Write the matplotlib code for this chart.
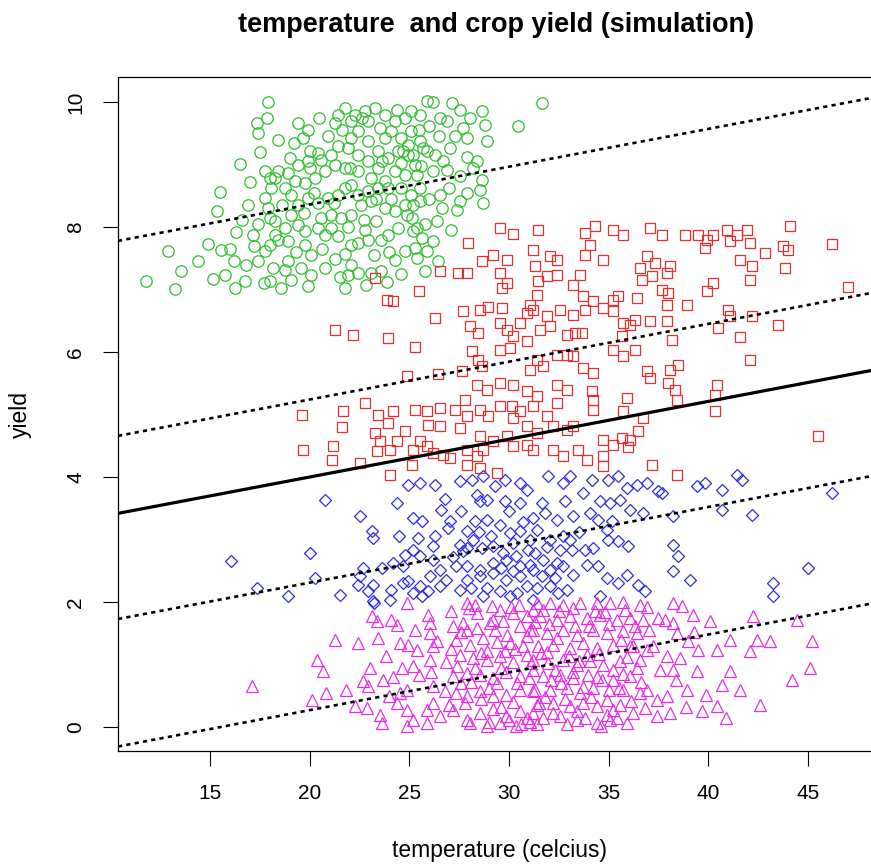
import matplotlib
matplotlib.use("Agg")
import matplotlib.pyplot as plt
import numpy as np

plt.rcParams["font.family"] = ["Liberation Sans", "DejaVu Sans"]

# ── Data ─────────────────────────────────────────────────────────────────────

# group 1 (green circles): temperature, yield
green_pts = [
    (17.91, 10.00), (17.88, 9.75), (17.33, 9.66), (17.40, 9.50), (19.41, 9.67), (20.45, 9.74),
    (19.66, 9.43), (20.00, 9.21), (16.48, 9.01), (16.98, 8.72), (15.48, 8.56), (15.36, 8.25),
    (16.90, 8.36), (16.32, 7.92), (17.15, 7.88), (12.89, 7.61), (11.80, 7.14), (13.22, 7.01),
    (13.56, 7.29), (14.39, 7.46), (14.90, 7.73), (15.56, 7.64), (15.15, 7.17), (15.73, 7.24),
    (16.23, 7.03), (16.73, 7.14), (16.20, 7.45), (16.82, 7.40), (17.40, 7.45), (17.74, 7.61),
    (17.99, 7.72), (18.41, 7.80), (18.16, 7.34), (17.99, 7.14), (18.57, 7.03), (17.70, 7.10),
    (18.74, 7.32), (19.08, 7.16), (19.58, 7.34), (20.08, 7.24), (20.75, 7.34), (21.25, 7.49),
    (21.75, 7.57), (22.09, 7.40), (22.42, 7.26), (21.92, 7.24), (21.75, 7.02), (23.09, 7.26),
    (23.59, 7.30), (24.26, 7.48), (24.76, 7.61), (25.26, 7.66), (25.18, 7.93), (24.43, 7.98),
    (23.92, 7.88), (23.59, 7.80), (22.75, 7.96), (22.42, 7.74), (22.09, 7.72), (21.42, 7.85),
    (21.08, 7.98), (20.75, 7.88), (20.41, 7.98), (20.58, 8.14), (21.08, 8.20), (21.58, 8.14),
    (22.09, 8.20), (22.59, 8.36), (23.09, 8.41), (23.76, 8.30), (24.26, 8.25), (24.76, 8.36),
    (25.09, 8.52), (24.59, 8.62), (23.92, 8.62), (23.42, 8.62), (22.92, 8.57), (22.42, 8.52),
    (22.09, 8.68), (21.75, 8.62), (21.42, 8.52), (20.91, 8.46), (20.41, 8.38), (19.91, 8.46),
    (19.41, 8.36), (19.08, 8.20), (19.41, 8.04), (18.74, 7.98), (18.24, 8.09), (18.24, 7.88),
    (18.91, 7.77), (19.74, 7.93), (19.74, 7.72), (20.08, 7.56), (17.91, 8.30), (17.74, 8.46),
    (18.07, 8.62), (17.99, 8.78), (18.41, 8.89), (18.91, 8.86), (19.24, 8.73), (18.74, 8.62),
    (19.08, 8.52), (19.74, 8.70), (20.24, 8.78), (20.75, 8.89), (21.25, 8.99), (20.58, 9.08),
    (21.08, 9.16), (20.41, 9.18), (19.91, 9.05), (19.41, 8.99), (21.42, 9.29), (22.09, 9.42),
    (21.92, 9.26), (22.42, 9.16), (22.92, 9.05), (23.42, 8.94), (23.09, 8.78), (23.76, 8.73),
    (24.26, 8.89), (24.76, 8.84), (25.26, 8.99), (24.92, 9.16), (24.43, 9.21), (23.92, 9.10),
    (23.42, 9.21), (22.92, 9.37), (22.42, 9.53), (22.92, 9.69), (23.26, 9.90), (22.75, 9.85),
    (22.25, 9.80), (21.75, 9.90), (21.42, 9.80), (21.25, 9.66), (22.09, 9.69), (23.76, 9.80),
    (24.26, 9.69), (24.76, 9.74), (25.09, 9.85), (25.09, 9.53), (24.59, 9.42), (24.09, 9.53),
    (23.76, 9.42), (24.92, 9.32), (21.75, 8.94), (22.42, 8.89), (17.74, 8.89), (18.24, 8.78),
    (25.87, 10.01), (27.12, 9.98), (26.20, 10.00), (25.53, 9.80), (26.54, 9.74), (27.54, 9.88),
    (28.04, 9.74), (28.63, 9.85), (28.79, 9.64), (27.71, 9.58), (27.87, 9.42), (27.04, 9.26),
    (28.88, 9.37), (30.47, 9.61), (31.64, 9.98), (25.53, 9.37), (24.70, 9.21), (25.70, 9.26),
    (25.20, 9.16), (25.87, 9.21), (25.37, 8.84), (26.20, 8.89), (26.87, 8.92), (27.54, 8.81),
    (28.38, 9.05), (28.63, 8.76), (28.54, 8.60), (28.71, 8.38), (27.54, 8.41), (27.37, 8.28),
    (26.54, 8.52), (26.62, 8.30), (25.53, 8.62), (25.20, 8.36), (25.53, 8.41), (25.12, 8.14),
    (25.37, 7.98), (25.62, 7.82), (26.20, 7.77), (25.87, 7.61), (25.37, 7.50), (26.45, 7.45),
    (25.78, 7.30), (24.86, 8.20),
    (19.20, 9.35), (19.90, 9.55), (20.90, 9.45), (21.60, 9.55), (22.60, 9.75), (23.50, 9.58),
    (24.40, 9.88), (25.50, 9.55), (26.00, 9.62), (26.90, 9.70), (27.30, 9.45), (26.30, 9.15),
    (26.70, 9.05), (27.90, 9.12), (28.20, 8.95), (27.00, 8.62), (27.90, 8.55), (26.00, 8.45),
    (25.80, 8.05), (26.40, 8.10), (27.10, 7.95), (24.00, 7.60), (23.20, 7.55), (22.90, 7.80),
    (23.30, 8.10), (22.70, 8.12), (21.90, 8.00), (21.20, 8.38), (20.20, 8.55), (19.70, 8.22),
    (18.60, 8.35), (18.00, 8.15), (17.40, 8.05), (16.60, 8.12), (16.00, 7.65), (17.20, 7.70),
    (19.30, 7.60), (20.60, 7.65), (21.50, 7.20), (22.80, 7.08), (23.90, 7.12), (24.60, 7.25),
    (19.90, 7.05), (18.90, 7.45), (22.00, 8.95), (20.00, 8.95), (19.00, 9.10), (18.40, 9.40),
    (17.50, 9.20), (23.60, 9.05), (24.60, 9.02), (25.60, 8.98), (26.50, 9.45), (23.30, 8.45),
    (24.10, 8.45),
]

# group 2 (red squares)
red_pts = [
    (29.55, 7.99), (30.21, 7.89), (31.47, 7.96), (27.96, 7.75), (28.63, 7.45), (29.21, 7.55),
    (29.88, 7.47), (27.46, 7.27), (27.87, 7.26), (26.54, 7.29), (23.28, 7.19), (31.22, 7.64),
    (32.05, 7.53), (32.39, 7.47), (31.30, 7.37), (29.55, 7.26), (29.88, 7.10), (29.63, 7.02),
    (31.47, 7.13), (31.89, 7.21), (32.39, 7.23), (25.50, 6.98), (23.86, 6.84), (24.19, 6.81),
    (31.38, 6.91), (31.05, 6.75), (31.22, 6.67), (26.29, 6.55), (27.71, 6.65), (28.54, 6.67),
    (28.96, 6.72), (29.63, 6.70), (29.55, 6.46), (30.55, 6.46), (30.88, 6.62), (31.89, 6.57),
    (32.55, 6.68), (21.27, 6.36), (22.19, 6.27), (23.94, 6.22), (25.28, 6.08), (28.04, 6.42),
    (28.46, 6.30), (29.88, 6.35), (30.21, 6.25), (31.55, 6.35), (32.05, 6.41), (32.89, 6.27),
    (29.55, 6.03), (30.05, 6.06), (30.88, 6.17), (28.12, 6.01), (28.46, 5.87), (28.63, 5.77),
    (31.38, 5.87), (31.05, 5.71), (31.72, 5.77), (32.39, 5.95), (32.89, 5.95), (24.86, 5.62),
    (26.45, 5.65), (27.62, 5.69), (28.37, 5.47), (28.88, 5.39), (29.55, 5.50), (30.21, 5.47),
    (30.88, 5.37), (31.38, 5.29), (32.39, 5.47), (32.89, 5.39), (22.77, 5.19), (21.69, 5.06),
    (21.60, 4.80), (23.44, 4.99), (24.19, 5.05), (23.94, 4.86), (25.28, 5.07), (25.87, 5.05),
    (26.54, 5.10), (25.95, 4.83), (26.54, 4.81), (27.29, 5.07), (27.79, 5.23), (27.87, 4.97),
    (27.54, 4.78), (28.54, 5.07), (28.96, 4.97), (29.55, 5.13), (30.13, 5.13), (30.55, 5.05),
    (31.22, 5.13), (31.89, 4.97), (32.39, 5.18), (30.21, 4.94), (30.88, 4.81), (31.38, 4.70),
    (32.22, 4.81), (32.89, 4.75), (19.68, 4.43), (21.19, 4.49), (21.10, 4.27), (22.52, 4.22),
    (23.28, 4.70), (23.53, 4.57), (24.03, 4.43), (23.36, 4.41), (24.78, 4.73), (24.36, 4.57),
    (25.20, 4.43), (25.53, 4.57), (25.87, 4.49), (26.20, 4.38), (26.70, 4.35), (27.04, 4.30),
    (25.11, 4.19), (24.03, 4.03), (27.87, 4.43), (28.37, 4.33), (28.71, 4.43), (29.21, 4.57),
    (29.88, 4.65), (30.21, 4.49), (30.88, 4.51), (31.22, 4.43), (32.22, 4.43), (32.72, 4.33),
    (27.87, 4.19), (28.54, 4.14), (29.38, 4.06), (28.54, 4.65), (19.60, 5.00),
    (33.81, 7.90), (34.31, 8.01), (35.23, 7.95), (35.74, 7.87), (37.07, 7.98), (37.66, 7.87),
    (38.83, 7.87), (39.50, 7.87), (39.92, 7.79), (40.25, 7.87), (40.92, 7.95), (41.42, 7.87),
    (41.92, 7.95), (42.09, 7.74), (41.09, 7.77), (39.83, 7.66), (44.10, 8.01), (46.19, 7.73),
    (43.76, 7.69), (44.01, 7.63), (42.84, 7.58), (41.59, 7.48), (42.17, 7.37), (42.09, 7.16),
    (43.84, 7.34), (34.06, 7.71), (33.81, 7.55), (34.73, 7.47), (36.91, 7.53), (36.57, 7.34),
    (37.32, 7.42), (38.08, 7.37), (37.91, 7.26), (36.65, 7.15), (37.16, 7.21), (33.56, 7.23),
    (33.23, 7.07), (33.73, 6.89), (34.23, 6.81), (35.23, 6.83), (35.48, 6.90), (36.40, 6.86),
    (37.66, 6.99), (37.99, 6.94), (37.91, 6.75), (38.91, 6.75), (39.92, 6.97), (40.25, 7.10),
    (33.23, 6.59), (33.81, 6.67), (34.73, 6.70), (35.23, 6.65), (35.74, 6.46), (36.07, 6.43),
    (36.32, 6.51), (37.07, 6.49), (37.91, 6.49), (35.65, 6.25), (35.23, 6.03), (35.74, 5.93),
    (36.32, 6.03), (38.16, 6.20), (40.50, 6.38), (41.00, 6.67), (41.09, 6.57), (42.17, 6.57),
    (43.51, 6.44), (41.59, 6.24), (47.02, 7.04), (33.31, 6.30), (33.65, 6.30), (33.23, 5.93),
    (33.73, 5.74), (34.23, 5.66), (36.91, 5.69), (37.07, 5.58), (38.08, 5.71), (38.49, 5.79),
    (37.99, 5.50), (38.33, 5.39), (38.41, 5.23), (40.42, 5.47), (40.33, 5.31), (40.33, 5.05),
    (42.09, 5.88), (34.15, 5.37), (34.23, 5.23), (34.23, 5.07), (35.90, 5.26), (35.74, 5.05),
    (36.74, 4.94), (36.49, 4.74), (34.73, 4.60), (35.23, 4.51), (35.65, 4.62), (36.07, 4.59),
    (35.99, 4.48), (33.48, 4.43), (33.90, 4.28), (34.73, 4.33), (34.73, 4.17), (37.16, 4.19),
    (38.41, 4.03), (45.52, 4.65), (33.23, 4.81),
]

# group 3 (blue diamonds)
blue_pts = [
    (20.76, 3.64), (24.36, 3.59), (22.52, 3.38), (23.10, 3.13), (23.18, 3.02), (20.01, 2.78),
    (16.03, 2.65), (17.33, 2.22), (18.92, 2.09), (20.26, 2.38), (21.51, 2.11), (22.68, 2.54),
    (22.52, 2.41), (22.43, 2.27), (22.93, 2.17), (23.18, 2.01), (23.60, 2.54), (24.10, 2.19),
    (24.77, 2.75), (25.19, 2.83), (24.94, 2.33), (25.44, 3.02), (25.19, 3.34), (25.61, 3.29),
    (24.94, 3.87), (25.53, 3.90), (26.28, 3.87), (26.61, 3.47), (27.03, 3.29), (26.95, 3.18),
    (27.53, 3.93), (28.12, 3.95), (28.70, 4.01), (29.79, 3.95), (30.54, 3.90), (30.88, 3.79),
    (30.54, 3.58), (29.79, 3.61), (28.37, 3.71), (28.53, 3.61), (28.87, 3.63), (28.28, 3.29),
    (28.87, 3.31), (29.54, 3.23), (30.04, 3.10), (30.54, 3.13), (31.04, 2.99), (27.87, 3.13),
    (28.20, 2.99), (27.53, 2.91), (27.70, 2.81), (28.62, 2.86), (29.20, 2.89), (29.71, 2.78),
    (30.37, 2.73), (30.96, 2.83), (30.21, 2.94), (29.20, 2.62), (29.87, 2.67), (30.54, 2.57),
    (31.04, 2.59), (27.36, 2.57), (27.87, 2.57), (28.53, 2.51), (26.19, 2.67), (26.53, 2.51),
    (26.03, 2.41), (26.86, 2.35), (25.53, 2.25), (25.94, 2.17), (26.53, 2.25), (27.53, 2.19),
    (24.69, 2.30), (25.19, 2.14), (25.61, 2.09), (27.87, 2.35), (28.53, 2.41), (29.20, 2.46),
    (29.87, 2.35), (30.54, 2.41), (28.87, 2.22), (29.54, 2.17), (30.04, 2.09), (30.88, 2.25),
    (28.70, 2.09), (24.19, 2.62), (24.69, 2.57), (25.53, 2.73), (26.19, 2.89), (23.18, 2.27),
    (24.02, 2.03), (23.20, 1.99),
    (31.97, 4.01), (32.72, 3.90), (33.06, 4.01), (34.14, 3.95), (34.98, 3.95), (35.48, 4.01),
    (35.90, 3.82), (36.40, 3.87), (36.90, 3.90), (37.49, 3.77), (37.65, 3.74), (39.41, 3.85),
    (39.83, 3.90), (40.66, 3.79), (41.42, 4.03), (41.67, 3.95), (46.18, 3.74), (40.66, 3.47),
    (42.17, 3.39), (38.24, 3.37), (36.73, 3.42), (31.64, 3.58), (32.81, 3.61), (31.80, 3.42),
    (32.39, 3.31), (33.22, 3.37), (34.06, 3.42), (34.56, 3.61), (35.06, 3.58), (35.56, 3.63),
    (36.07, 3.47), (35.15, 3.29), (34.48, 3.31), (31.38, 3.15), (32.05, 2.99), (32.72, 3.05),
    (33.06, 2.99), (32.55, 2.83), (33.14, 2.83), (33.81, 2.83), (34.23, 2.86), (34.98, 2.99),
    (35.48, 2.97), (35.98, 2.90), (38.24, 2.91), (38.49, 2.73), (38.24, 2.49), (39.08, 2.35),
    (45.01, 2.54), (43.26, 2.30), (43.26, 2.09), (31.30, 2.78), (31.72, 2.67), (31.22, 2.51),
    (32.05, 2.51), (32.72, 2.57), (31.64, 2.41), (32.30, 2.38), (33.22, 2.43), (31.38, 2.22),
    (32.05, 2.25), (32.89, 2.19), (34.48, 2.57), (34.90, 2.38), (35.48, 2.30), (35.90, 2.43),
    (36.48, 2.27), (36.82, 2.17), (34.56, 2.09), (31.22, 2.03), (32.47, 2.14),
    (27.20, 2.72), (27.90, 2.87), (28.50, 3.12), (29.10, 3.05), (29.60, 2.55), (30.20, 2.50),
    (30.70, 3.28), (31.20, 3.35), (31.90, 2.88), (32.40, 2.63), (33.50, 3.12), (33.90, 2.60),
    (26.80, 3.65), (27.60, 3.45), (29.30, 3.85), (30.00, 3.45), (33.70, 3.75), (34.90, 3.15),
    (28.10, 2.22), (30.40, 2.15), (26.30, 3.05), (24.50, 3.05),
]

# group 4 (magenta triangles)
magenta_pts = [
    (24.86, 1.98), (23.10, 1.77), (23.35, 1.69), (24.10, 1.71), (24.36, 1.63), (25.94, 1.79),
    (26.03, 1.66), (27.11, 1.85), (27.87, 1.98), (28.28, 1.96), (29.12, 1.93), (29.54, 1.87),
    (30.21, 1.82), (30.88, 1.77), (31.21, 1.87), (21.26, 1.39), (23.43, 1.42), (24.52, 1.34),
    (24.94, 1.31), (25.36, 1.23), (26.03, 1.50), (26.19, 1.29), (27.20, 1.61), (27.70, 1.66),
    (28.37, 1.58), (29.04, 1.66), (29.70, 1.69), (30.54, 1.61), (31.04, 1.55), (27.36, 1.39),
    (28.03, 1.31), (28.70, 1.42), (29.37, 1.36), (30.04, 1.34), (30.71, 1.30), (23.85, 1.13),
    (24.61, 0.94), (25.19, 0.97), (26.03, 1.07), (26.86, 1.04), (27.53, 1.15), (28.20, 1.10),
    (28.87, 1.07), (29.54, 1.13), (30.21, 1.04), (30.88, 1.16), (20.34, 1.07), (20.68, 0.89),
    (17.08, 0.65), (20.09, 0.43), (20.84, 0.54), (22.68, 0.73), (22.93, 0.65), (23.69, 0.75),
    (24.52, 0.54), (24.86, 0.59), (26.19, 0.65), (27.20, 0.81), (27.87, 0.86), (28.53, 0.83),
    (29.20, 0.79), (29.87, 0.88), (30.54, 0.81), (31.21, 0.91), (22.26, 0.33), (22.85, 0.30),
    (23.52, 0.19), (23.60, 0.06), (24.36, 0.38), (24.86, 0.27), (25.19, 0.11), (25.86, 0.27),
    (26.19, 0.38), (26.53, 0.17), (27.36, 0.54), (27.87, 0.49), (28.53, 0.57), (29.20, 0.49),
    (29.87, 0.52), (30.54, 0.60), (31.21, 0.57), (27.20, 0.27), (27.87, 0.11), (28.53, 0.22),
    (29.20, 0.29), (29.87, 0.17), (30.54, 0.25), (31.21, 0.22), (28.03, 0.06), (28.87, 0.02),
    (29.54, 0.06), (30.37, 0.02), (31.04, 0.08), (24.86, 0.02), (25.86, 0.06),
    (31.38, 1.98), (32.05, 1.99), (32.72, 1.95), (33.56, 1.98), (34.39, 1.99), (35.06, 1.98),
    (35.73, 2.00), (36.57, 1.95), (31.55, 1.77), (32.39, 1.71), (33.06, 1.77), (33.89, 1.74),
    (34.56, 1.79), (35.40, 1.71), (36.07, 1.74), (36.73, 1.71), (31.22, 1.55), (31.89, 1.50),
    (32.72, 1.55), (33.39, 1.47), (34.23, 1.55), (34.90, 1.50), (35.73, 1.53), (36.40, 1.50),
    (31.47, 1.29), (32.22, 1.31), (33.06, 1.26), (33.73, 1.34), (34.39, 1.26), (35.23, 1.31),
    (36.07, 1.29), (36.90, 1.23), (31.22, 1.07), (31.97, 1.02), (32.72, 1.07), (33.39, 0.99),
    (34.06, 1.05), (34.73, 0.99), (35.56, 1.05), (31.72, 0.81), (32.55, 0.83), (33.22, 0.78),
    (33.98, 0.83), (34.65, 0.75), (31.30, 0.59), (32.05, 0.59), (32.89, 0.62), (33.56, 0.54),
    (34.23, 0.62), (31.38, 0.35), (32.22, 0.38), (33.06, 0.33), (33.73, 0.38), (34.39, 0.33),
    (35.56, 0.35), (31.72, 0.14), (32.55, 0.17), (33.39, 0.11), (35.06, 0.11), (36.23, 0.22),
    (38.24, 1.98), (38.66, 1.93), (39.24, 1.79), (40.08, 1.69), (37.49, 1.74), (38.24, 1.66),
    (38.41, 1.50), (38.99, 1.37), (39.49, 1.23), (40.41, 1.23), (41.08, 1.39), (42.25, 1.77),
    (42.09, 1.21), (42.42, 1.39), (43.09, 1.37), (44.43, 1.71), (45.18, 1.37), (45.09, 0.94),
    (44.18, 0.75), (41.08, 0.89), (40.66, 0.67), (38.91, 0.59), (39.41, 0.89), (38.24, 0.91),
    (37.57, 0.91), (37.91, 1.13), (37.40, 0.43), (37.91, 0.49), (38.07, 0.22), (39.66, 0.25),
    (40.41, 0.33), (42.59, 0.35), (36.57, 0.54), (36.90, 0.59), (35.90, 0.06), (34.39, 0.06),
    (35.23, 0.27), (36.07, 0.81), (36.57, 1.07), (35.23, 0.75), (35.73, 0.59), (34.90, 0.43),
    (27.60, 1.52), (28.40, 1.82), (29.30, 1.55), (30.10, 1.92), (30.90, 1.45), (31.70, 1.88),
    (32.40, 1.42), (33.20, 1.90), (34.00, 1.62), (34.80, 1.84), (35.60, 1.40), (36.30, 1.62),
    (27.40, 0.98), (28.10, 0.72), (28.90, 1.22), (29.60, 0.95), (30.30, 1.25), (31.00, 0.78),
    (31.60, 1.18), (32.30, 0.92), (33.00, 1.14), (33.70, 0.64), (34.50, 1.17), (35.20, 0.92),
    (35.90, 1.12), (36.60, 0.72), (27.80, 0.38), (28.60, 0.45), (29.40, 0.70), (30.20, 0.40),
    (30.90, 0.15), (31.80, 0.48), (32.60, 0.70), (33.40, 0.25), (34.10, 0.48), (34.90, 0.20),
    (35.50, 0.62), (36.10, 0.42), (29.00, 0.08), (30.60, 0.05), (32.90, 0.05), (26.80, 0.58),
    (26.40, 1.38), (25.50, 0.84), (24.20, 0.80), (37.20, 1.30), (37.40, 0.18), (38.60, 1.10),
    (39.90, 0.52), (40.90, 0.14), (41.60, 0.60), (38.90, 0.32), (32.00, 1.65), (33.50, 1.05),
    (29.90, 1.48), (28.00, 1.90),
    (27.10, 1.25), (27.90, 1.55), (28.60, 1.18), (29.20, 1.72), (29.80, 1.22), (30.50, 1.95),
    (31.30, 1.68), (31.90, 1.20), (32.50, 1.85), (33.30, 1.62), (34.30, 1.85), (35.00, 1.65),
    (35.80, 1.88), (36.90, 1.92), (37.00, 1.55), (27.00, 0.35), (27.60, 0.70), (28.30, 0.95),
    (29.00, 0.62), (29.60, 0.32), (30.40, 0.70), (31.10, 1.02), (31.50, 0.38), (32.10, 0.75),
    (32.80, 0.45), (33.20, 0.88), (33.90, 1.15), (34.40, 0.80), (35.00, 0.60), (35.70, 0.85),
    (36.40, 0.95), (30.00, 0.12), (31.40, 0.05), (32.20, 0.22), (33.80, 0.15), (34.60, 0.02),
    (35.40, 0.15), (36.80, 0.30), (26.10, 0.88), (25.30, 1.55), (24.00, 0.50), (23.00, 0.95),
    (22.40, 1.35), (21.80, 0.60), (37.80, 1.72), (38.40, 0.75), (39.30, 1.52), (36.20, 1.30),
]

# fitted lines: common slope, one intercept per group plus the overall fit
slope = 0.0605
group_intercepts = [7.15, 4.03, 1.10, -0.94]
overall_intercept = 2.79

x_ticks = [15, 20, 25, 30, 35, 40, 45]
y_ticks = [0, 2, 4, 6, 8, 10]

# ── Figure ───────────────────────────────────────────────────────────────────

W, H = 871, 865
fig = plt.figure(figsize=(W / 100, H / 100), dpi=100)
ax = fig.add_axes([118 / W, (H - 751) / H, (881 - 118) / W, (751 - 77) / H])

groups = [
    (green_pts, "o", 8.2, "#2FBF2F"),
    (red_pts, "s", 7.0, "#E62E2E"),
    (blue_pts, "D", 6.6, "#2E2EE0"),
    (magenta_pts, "^", 8.4, "#E62EE6"),
]
for pts, marker, ms, col in groups:
    xs, ys = zip(*pts)
    ax.plot(xs, ys, linestyle="none", marker=marker, markersize=ms,
            markerfacecolor="none", markeredgecolor=col, markeredgewidth=0.9)

for b in group_intercepts:
    ax.axline((0, b), slope=slope, color="black", linewidth=1.9,
              linestyle=(0, (1.6, 1.6)))
ax.axline((0, overall_intercept), slope=slope, color="black", linewidth=2.3)

ax.set_xlim(10.38, 48.66)
ax.set_ylim(-0.384, 10.4)
ax.set_xticks(x_ticks)
ax.set_yticks(y_ticks)
ax.tick_params(axis="both", length=10.5, width=0.8, labelsize=15, pad=13)
ax.set_yticklabels([str(v) for v in y_ticks], rotation=90, va="center")
for s in ax.spines.values():
    s.set_linewidth(0.9)

fig.text(496 / W, 1 - 25 / H, "temperature  and crop yield (simulation)",
         ha="center", va="center", fontsize=19.5, fontweight="bold")
fig.text(499 / W, 1 - 851 / H, "temperature (celcius)",
         ha="center", va="center", fontsize=16.5)
fig.text(20 / W, 1 - 414 / H, "yield", ha="center", va="center",
         rotation=90, fontsize=16.5)

fig.savefig("out.png", dpi=100)
